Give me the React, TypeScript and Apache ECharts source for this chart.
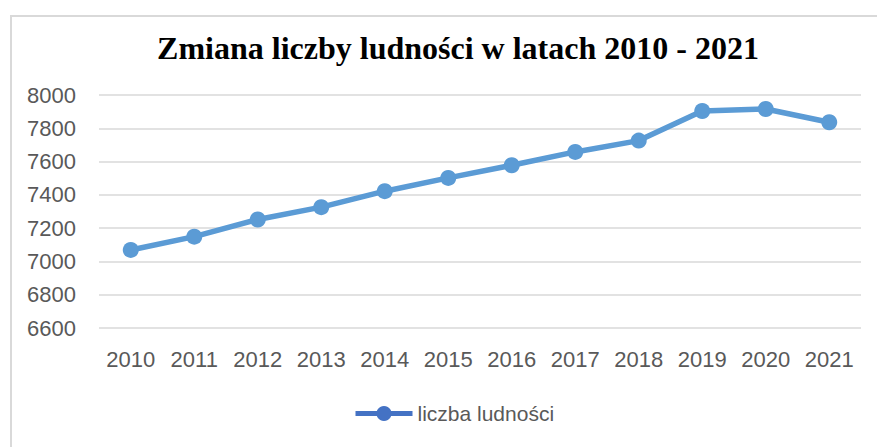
import React, { useEffect, useRef } from "react";
import * as echarts from "echarts";

const years = ["2010", "2011", "2012", "2013", "2014", "2015", "2016", "2017", "2018", "2019", "2020", "2021"];
const population = [7069, 7149, 7252, 7326, 7422, 7502, 7578, 7658, 7726, 7904, 7916, 7836];
const seriesName = "liczba ludności";
const titleText = "Zmiana liczby ludności w latach 2010 - 2021";
const yMin = 6600;
const yMax = 8000;
const yStep = 200;

export default function App() {
  const ref = useRef<HTMLDivElement>(null);
  useEffect(() => {
    if (!ref.current) return;
    const chart = echarts.init(ref.current, undefined, { renderer: "svg" });
    chart.setOption({
      animation: false,
      backgroundColor: "#ffffff",
      title: {
        text: titleText,
        left: 453,
        textAlign: "center",
        top: 27,
        textStyle: {
          fontFamily: "Liberation Serif",
          fontWeight: "bold",
          fontSize: 32,
          color: "#000000",
        },
      },
      grid: { left: 99, right: 16, top: 95, bottom: 119, containLabel: false },
      legend: {
        left: 353,
        top: 403,
        padding: 0,
        itemWidth: 57,
        itemHeight: 19,
        itemGap: 3,
        textStyle: { fontFamily: "Liberation Sans", fontSize: 21, color: "#595959" },
        data: [
          {
            name: seriesName,
            itemStyle: { color: "#4472C4" },
            lineStyle: { color: "#4472C4", width: 5 },
          },
        ],
      },
      xAxis: {
        type: "category",
        data: years,
        boundaryGap: true,
        axisLine: { show: false },
        axisTick: { show: false },
        axisLabel: {
          interval: 0,
          margin: 20,
          fontFamily: "Liberation Sans",
          fontSize: 22,
          color: "#595959",
        },
      },
      yAxis: {
        type: "value",
        min: yMin,
        max: yMax,
        interval: yStep,
        axisLine: { show: false },
        axisTick: { show: false },
        axisLabel: {
          margin: 23,
          fontFamily: "Liberation Sans",
          fontSize: 22,
          color: "#595959",
          formatter: (v: number) => String(v),
        },
        splitLine: { lineStyle: { color: "#D9D9D9", width: 1.5 } },
      },
      series: [
        {
          name: seriesName,
          type: "line",
          data: population,
          symbol: "circle",
          symbolSize: 16,
          lineStyle: { color: "#5B9BD5", width: 5.5 },
          itemStyle: { color: "#5B9BD5" },
        },
      ],
      graphic: [
        {
          type: "rect",
          silent: true,
          shape: { x: 11, y: 16, width: 1000, height: 600 },
          style: { fill: "none", stroke: "#D9D9D9", lineWidth: 2 },
        },
      ],
    });
    return () => chart.dispose();
  }, []);
  return (
    <div
      ref={ref}
      style={{ position: "fixed", left: 0, top: 0, width: 877, height: 447 }}
    />
  );
}
